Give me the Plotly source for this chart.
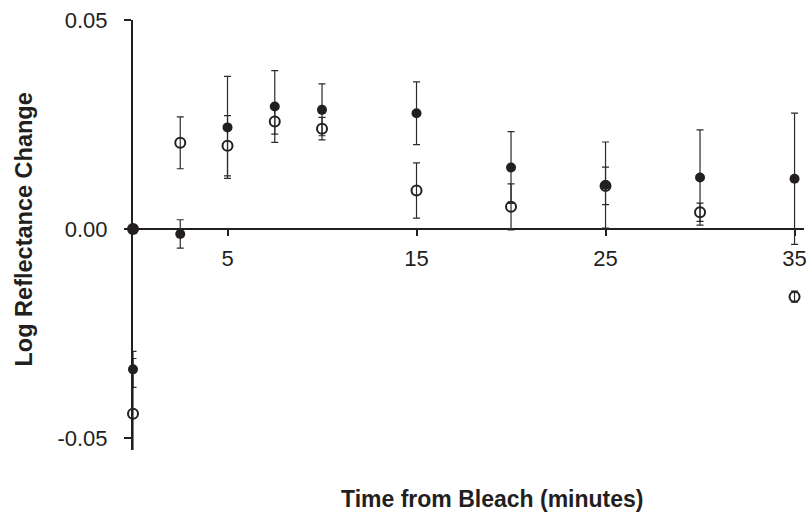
import plotly.graph_objects as go

# ---- data ----
times = [0, 2.5, 5, 7.5, 10, 15, 20, 25, 30, 35]

filled_values = [-0.0336, -0.0012, 0.0243, 0.0293, 0.0285, 0.0277, 0.0147, 0.0105, 0.0123, 0.0120]
filled_errors = [0.0043, 0.0034, 0.0122, 0.0086, 0.0062, 0.0075, 0.0086, 0.0103, 0.0114, 0.0157]

open_values = [-0.0442, 0.0206, 0.0199, 0.0257, 0.0240, 0.0092, 0.0053, 0.0103, 0.0040, -0.0162]
open_errors = [0.0132, 0.0062, 0.0072, 0.0030, 0.0027, 0.0066, 0.0055, 0.0045, 0.0022, 0.0013]

start_time = [0]
start_value = [0.0]

x_tickvals = [5, 15, 25, 35]
x_ticktext = ["5", "15", "25", "35"]
y_tickvals = [-0.05, 0.0, 0.05]
y_ticktext = ["-0.05", "0.00", "0.05"]

x_title = "Time from Bleach (minutes)"
y_title = "Log Reflectance Change"

# ---- style ----
INK = "#231f20"
FONT = "Liberation Sans, Arial, sans-serif"
YMIN, YMAX = -0.0529, 0.05
XMIN, XMAX = 0, 35.5

fig = go.Figure()

err_style = dict(type="data", visible=True, color="#2b2b2b", thickness=1.2, width=3.5)

fig.add_trace(go.Scatter(
    x=times, y=open_values, mode="markers",
    marker=dict(symbol="circle-open", size=10, color=INK, line=dict(width=2, color=INK)),
    error_y=dict(array=open_errors, **err_style),
    cliponaxis=False, showlegend=False,
))

fig.add_trace(go.Scatter(
    x=times, y=filled_values, mode="markers",
    marker=dict(symbol="circle", size=10, color=INK),
    error_y=dict(array=filled_errors, **err_style),
    cliponaxis=False, showlegend=False,
))

fig.add_trace(go.Scatter(
    x=start_time, y=start_value, mode="markers",
    marker=dict(symbol="circle", size=12, color=INK),
    cliponaxis=False, showlegend=False,
))

zero_pos = (0 - YMIN) / (YMAX - YMIN)

fig.update_layout(
    width=807, height=512,
    margin=dict(l=133, r=0, t=20, b=62),
    paper_bgcolor="white", plot_bgcolor="white",
    font=dict(family=FONT, size=22, color=INK),
    xaxis=dict(
        range=[XMIN, XMAX], anchor="free", position=zero_pos,
        showline=True, linewidth=2, linecolor=INK,
        ticks="outside", ticklen=6, tickwidth=2, tickcolor=INK,
        tickvals=x_tickvals, ticktext=x_ticktext,
        showgrid=False, zeroline=False,
        tickfont=dict(family=FONT, size=22, color=INK),
        ticklabelstandoff=4, ticklabeloverflow="allow",
        layer="below traces",
    ),
    yaxis=dict(
        range=[YMIN, YMAX], domain=[0, 1],
        showline=True, linewidth=2, linecolor=INK,
        ticks="outside", ticklen=7, tickwidth=2, tickcolor=INK,
        tickvals=y_tickvals, ticktext=y_ticktext,
        showgrid=False, zeroline=False,
        tickfont=dict(family=FONT, size=22, color=INK),
        ticklabelstandoff=12,
        layer="below traces",
    ),
    annotations=[
        dict(text=x_title, xref="paper", yref="paper",
             x=(494 - 133) / 674, y=-(499 - 450) / 430,
             xanchor="center", yanchor="middle", showarrow=False,
             font=dict(family=FONT, size=23, color=INK, weight=700)),
        dict(text=y_title, xref="paper", yref="paper",
             x=(24 - 133) / 674, y=(450 - 229) / 430, textangle=-90,
             xanchor="center", yanchor="middle", showarrow=False,
             font=dict(family=FONT, size=23.5, color=INK, weight=700)),
    ],
)

fig.write_html("out.html")
